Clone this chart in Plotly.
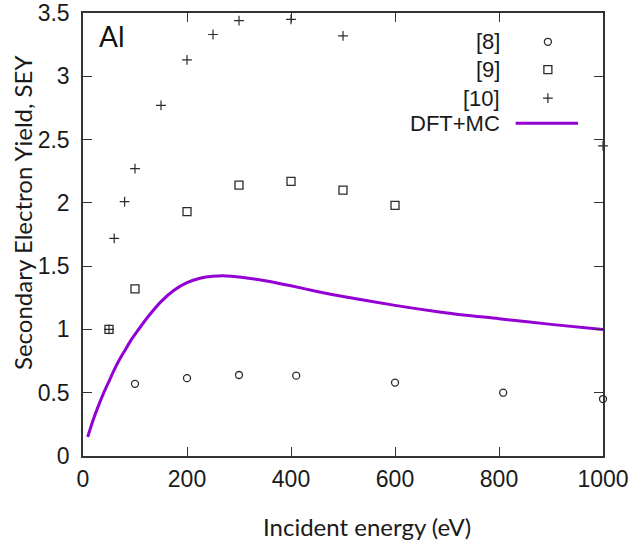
import plotly.graph_objects as go

# ---- data ----
ref8_energy = [100, 200, 300, 410, 600, 808, 1000]
ref8_sey = [0.57, 0.615, 0.64, 0.635, 0.58, 0.50, 0.45]

ref9_energy = [50, 100, 200, 300, 400, 500, 600]
ref9_sey = [1.00, 1.32, 1.93, 2.14, 2.17, 2.10, 1.98]

ref10_energy = [50, 60, 80, 100, 150, 200, 250, 300, 400, 500, 1000]
ref10_sey = [1.00, 1.72, 2.01, 2.27, 2.77, 3.13, 3.33, 3.44, 3.45, 3.32, 2.45]

dft_energy = [9, 20, 30, 40, 50, 60, 70, 80, 90, 100, 125, 150, 175, 200, 225, 250, 275,
              300, 350, 400, 450, 500, 600, 700, 800, 900, 1000]
dft_sey = [0.15, 0.29, 0.40, 0.50, 0.59, 0.68, 0.76, 0.83, 0.90, 0.96, 1.10, 1.22, 1.31,
           1.37, 1.405, 1.42, 1.423, 1.415, 1.385, 1.345, 1.30, 1.26, 1.19, 1.13,
           1.085, 1.04, 1.0]

legend_labels = ["[8]", "[9]", "[10]", "DFT+MC"]

x_ticks = [0, 200, 400, 600, 800, 1000]
y_ticks = [0, 0.5, 1, 1.5, 2, 2.5, 3, 3.5]
y_ticklabels = ["0", "0.5", "1", "1.5", "2", "2.5", "3", "3.5"]

x_title = "Incident energy (eV)"
y_title = "Secondary Electron Yield, SEY"

# ---- style ----
mark_col = "#2b2b2b"
line_col = "#9400D3"
arial = "Liberation Sans, Arial, sans-serif"
tick_font = dict(family=arial, size=23, color="#1a1a1a")
title_font = dict(family="Lato, sans-serif", size=24, color="#1a1a1a")

fig = go.Figure()

fig.add_trace(go.Scatter(x=dft_energy, y=dft_sey, mode="lines",
                         line=dict(color=line_col, width=3, shape="spline", smoothing=0.8),
                         showlegend=False))
fig.add_trace(go.Scatter(x=ref8_energy, y=ref8_sey, mode="markers",
                         marker=dict(symbol="circle-open", size=7, color=mark_col, line=dict(width=1.3)),
                         showlegend=False, cliponaxis=False))
fig.add_trace(go.Scatter(x=ref9_energy, y=ref9_sey, mode="markers",
                         marker=dict(symbol="square-open", size=8, color=mark_col, line=dict(width=1.3)),
                         showlegend=False, cliponaxis=False))
fig.add_trace(go.Scatter(x=ref10_energy, y=ref10_sey, mode="markers",
                         marker=dict(symbol="cross-thin-open", size=7, color=mark_col,
                                     line=dict(width=1.2, color=mark_col)),
                         showlegend=False, cliponaxis=False))

# ---- manual gnuplot-style legend (text left, sample right) on hidden overlay axes ----
leg_rows = [0.935, 0.872, 0.808, 0.751]
leg_sym_x = 0.894
leg_text_x = 0.806
fig.add_trace(go.Scatter(x=[leg_sym_x], y=[leg_rows[0]], xaxis="x2", yaxis="y2", mode="markers",
                         marker=dict(symbol="circle-open", size=7, color=mark_col, line=dict(width=1.3)),
                         showlegend=False, hoverinfo="skip"))
fig.add_trace(go.Scatter(x=[leg_sym_x], y=[leg_rows[1]], xaxis="x2", yaxis="y2", mode="markers",
                         marker=dict(symbol="square-open", size=8, color=mark_col, line=dict(width=1.3)),
                         showlegend=False, hoverinfo="skip"))
fig.add_trace(go.Scatter(x=[leg_sym_x], y=[leg_rows[2]], xaxis="x2", yaxis="y2", mode="markers",
                         marker=dict(symbol="cross-thin-open", size=7, color=mark_col,
                                     line=dict(width=1.2, color=mark_col)),
                         showlegend=False, hoverinfo="skip"))
fig.add_shape(type="line", xref="x2", yref="y2", x0=0.832, x1=0.952, y0=leg_rows[3], y1=leg_rows[3],
              line=dict(color=line_col, width=3))
for lab, yy in zip(legend_labels, leg_rows):
    fig.add_annotation(x=leg_text_x, y=yy, xref="x2", yref="y2", text=lab, showarrow=False,
                       xanchor="right", yanchor="middle",
                       font=dict(family=arial, size=22, color="#1a1a1a"))

fig.add_annotation(x=0.027, y=0.947, xref="x2", yref="y2", text="Al", showarrow=False,
                   xanchor="left", yanchor="middle",
                   font=dict(family="Lato, sans-serif", size=28, color="#111111"))

# axis titles (offset like the original gnuplot figure)
fig.add_annotation(x=0.546, y=0, xref="paper", yref="paper", yshift=-70, text=x_title,
                   showarrow=False, xanchor="center", yanchor="middle", font=title_font)
fig.add_annotation(x=0, y=0.5485, xref="paper", yref="paper", xshift=-61, text=y_title,
                   textangle=-90, showarrow=False, xanchor="center", yanchor="middle", font=title_font)

axis_common = dict(showline=True, linecolor="#333333", linewidth=1.5, mirror="allticks",
                   ticks="inside", ticklen=9, tickwidth=1.3, tickcolor="#333333",
                   showgrid=False, zeroline=False, tickfont=tick_font, automargin=False)

fig.update_layout(
    width=631, height=543,
    margin=dict(l=83, r=28, t=13, b=87),
    paper_bgcolor="white", plot_bgcolor="white",
    xaxis=dict(range=[0, 1000], tickvals=x_ticks, ticklabelstandoff=2, **axis_common),
    yaxis=dict(range=[0, 3.5], tickvals=y_ticks, ticktext=y_ticklabels, ticklabelstandoff=7, **axis_common),
    xaxis2=dict(overlaying="x", range=[0, 1], visible=False, fixedrange=True),
    yaxis2=dict(overlaying="y", range=[0, 1], visible=False, fixedrange=True),
    showlegend=False,
)

fig.write_html("out.html", config={"displayModeBar": False},
               post_script="document.body.style.margin='0px';document.body.style.overflow='hidden';")
